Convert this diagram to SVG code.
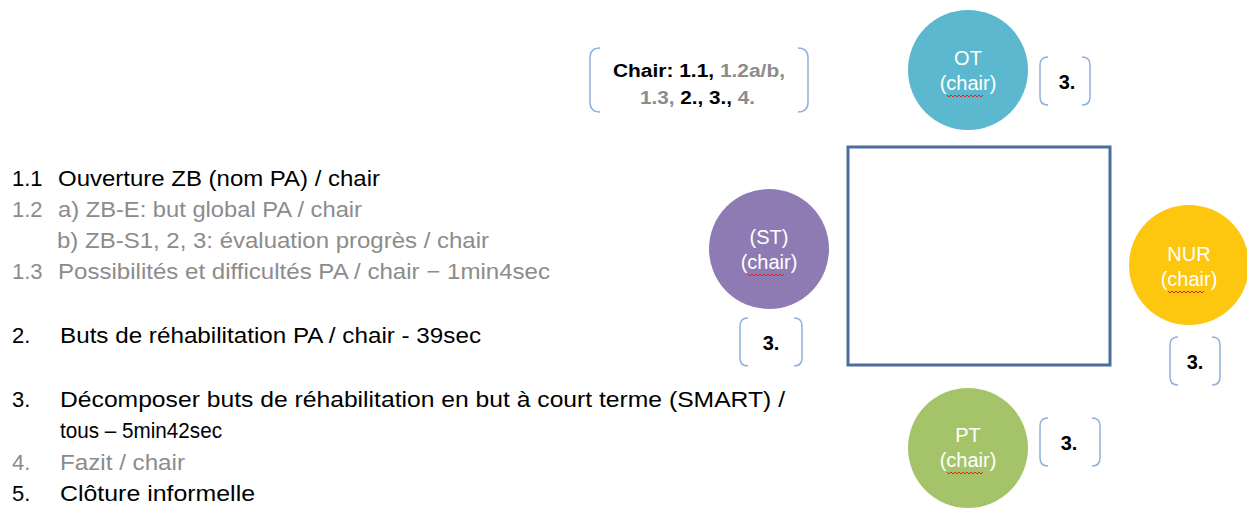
<svg xmlns="http://www.w3.org/2000/svg" width="1247" height="508" viewBox="0 0 1247 508">
<defs>
<style>
text{font-family:"Liberation Sans","Noto Sans",Arial,sans-serif}
.list{font-size:22px;fill:#000}
.g{fill:#8c8c8c}
.k{fill:#000}
.node{font-size:20px;fill:#fff}
.bk{fill:none;stroke:#8eb1db;stroke-width:1.5}
.lbl{font-size:18px;font-weight:bold;fill:#000}
.three{font-size:20px;font-weight:bold;fill:#000}
.sq{fill:none;stroke:#e0261b;stroke-width:1}
</style>
</defs>
<rect width="1247" height="508" fill="#fff"/>
<g id="agenda">
<text class="list" x="12" y="186">1.1</text>
<text class="list" x="58" y="186" textLength="322" lengthAdjust="spacingAndGlyphs">Ouverture ZB (nom PA) / chair</text>
<text class="list g" x="12" y="217">1.2</text>
<text class="list g" x="58" y="217" textLength="304" lengthAdjust="spacingAndGlyphs">a) ZB-E: but global PA / chair</text>
<text class="list g" x="57" y="248" textLength="432" lengthAdjust="spacingAndGlyphs">b) ZB-S1, 2, 3: évaluation progrès / chair</text>
<text class="list g" x="12" y="279">1.3</text>
<text class="list g" x="58" y="279" textLength="492" lengthAdjust="spacingAndGlyphs">Possibilités et difficultés PA / chair − 1min4sec</text>
<text class="list" x="12" y="343">2.</text>
<text class="list" x="60" y="343" textLength="421" lengthAdjust="spacingAndGlyphs">Buts de réhabilitation PA / chair - 39sec</text>
<text class="list" x="12" y="407">3.</text>
<text class="list" x="60" y="407" textLength="725" lengthAdjust="spacingAndGlyphs">Décomposer buts de réhabilitation en but à court terme (SMART) /</text>
<text class="list" x="60" y="438" textLength="162" lengthAdjust="spacingAndGlyphs">tous – 5min42sec</text>
<text class="list g" x="12" y="470">4.</text>
<text class="list g" x="60" y="470" textLength="125" lengthAdjust="spacingAndGlyphs">Fazit / chair</text>
<text class="list" x="12" y="501">5.</text>
<text class="list" x="60" y="501" textLength="195" lengthAdjust="spacingAndGlyphs">Clôture informelle</text>
</g>
<g id="chair-note">
<path class="bk" d="M600,48 Q590,48 590,58 L590,102 Q590,112 600,112"/>
<path class="bk" d="M798,48 Q808,48 808,58 L808,102 Q808,112 798,112"/>
<text class="lbl" x="613" y="77" textLength="172" lengthAdjust="spacingAndGlyphs">Chair: 1.1, <tspan class="g">1.2a/b,</tspan></text>
<text class="lbl" x="640" y="104" textLength="115" lengthAdjust="spacingAndGlyphs"><tspan class="g">1.3,</tspan> 2., 3., <tspan class="g">4.</tspan></text>
</g>
<g id="table">
<rect x="848" y="147" width="262" height="218" fill="none" stroke="#4d6d9c" stroke-width="3"/>
</g>
<g id="OT">
<circle cx="968" cy="70" r="60" fill="#5bb8cf"/>
<text class="node" x="968" y="65" text-anchor="middle">OT</text>
<text class="node" x="968" y="90" text-anchor="middle">(chair)</text>
<path class="sq" d="M947,95 l2,2 l2,-2 l2,2 l2,-2 l2,2 l2,-2 l2,2 l2,-2 l2,2 l2,-2 l2,2 l2,-2 l2,2 l2,-2 l2,2 l2,-2 l2,2 l2,-2"/>
</g>
<g id="OT-3">
<path class="bk" d="M1048,57 Q1040,57 1040,65 L1040,97 Q1040,105 1048,105"/>
<path class="bk" d="M1082,57 Q1090,57 1090,65 L1090,97 Q1090,105 1082,105"/>
<text class="three" x="1067" y="89" text-anchor="middle">3.</text>
</g>
<g id="ST">
<circle cx="769" cy="249" r="60" fill="#8e7bb3"/>
<text class="node" x="769" y="244" text-anchor="middle">(ST)</text>
<text class="node" x="769" y="269" text-anchor="middle">(chair)</text>
<path class="sq" d="M748,274 l2,2 l2,-2 l2,2 l2,-2 l2,2 l2,-2 l2,2 l2,-2 l2,2 l2,-2 l2,2 l2,-2 l2,2 l2,-2 l2,2 l2,-2 l2,2 l2,-2"/>
</g>
<g id="ST-3">
<path class="bk" d="M748,318 Q740,318 740,326 L740,358 Q740,366 748,366"/>
<path class="bk" d="M794,318 Q802,318 802,326 L802,358 Q802,366 794,366"/>
<text class="three" x="771" y="350" text-anchor="middle">3.</text>
</g>
<g id="NUR">
<circle cx="1189" cy="265" r="60" fill="#fdc60f"/>
<text class="node" x="1189" y="261" text-anchor="middle">NUR</text>
<text class="node" x="1189" y="286" text-anchor="middle">(chair)</text>
<path class="sq" d="M1168,291 l2,2 l2,-2 l2,2 l2,-2 l2,2 l2,-2 l2,2 l2,-2 l2,2 l2,-2 l2,2 l2,-2 l2,2 l2,-2 l2,2 l2,-2 l2,2 l2,-2"/>
</g>
<g id="NUR-3">
<path class="bk" d="M1178,337 Q1170,337 1170,345 L1170,377 Q1170,385 1178,385"/>
<path class="bk" d="M1212,337 Q1220,337 1220,345 L1220,377 Q1220,385 1212,385"/>
<text class="three" x="1195" y="369" text-anchor="middle">3.</text>
</g>
<g id="PT">
<circle cx="968" cy="448" r="60" fill="#a5c46a"/>
<text class="node" x="968" y="442" text-anchor="middle">PT</text>
<text class="node" x="968" y="467" text-anchor="middle">(chair)</text>
<path class="sq" d="M947,472 l2,2 l2,-2 l2,2 l2,-2 l2,2 l2,-2 l2,2 l2,-2 l2,2 l2,-2 l2,2 l2,-2 l2,2 l2,-2 l2,2 l2,-2 l2,2 l2,-2"/>
</g>
<g id="PT-3">
<path class="bk" d="M1048,418 Q1040,418 1040,426 L1040,458 Q1040,466 1048,466"/>
<path class="bk" d="M1092,418 Q1100,418 1100,426 L1100,458 Q1100,466 1092,466"/>
<text class="three" x="1069" y="450" text-anchor="middle">3.</text>
</g>
<g id="connectors"></g>
</svg>
